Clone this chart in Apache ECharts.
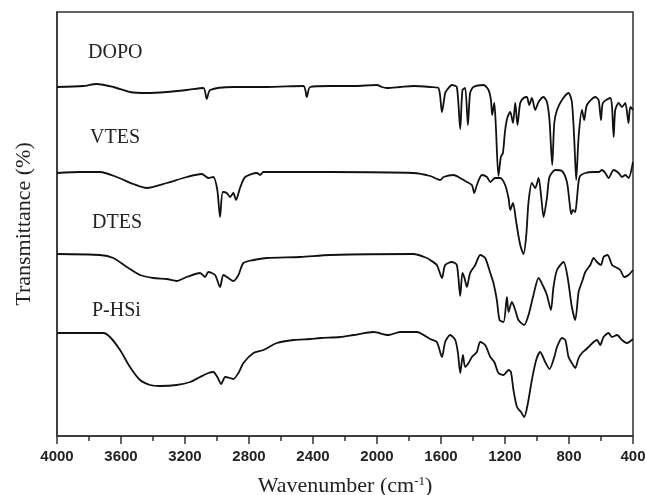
<!DOCTYPE html>
<html>
<head>
<meta charset="utf-8">
<script src="https://cdn.jsdelivr.net/npm/echarts@6/dist/echarts.min.js"></script>
<style>
  html, body { margin: 0; padding: 0; background: #fff; }
  #chart { width: 646px; height: 495px; }
</style>
</head>
<body>
<div id="chart"></div>
<script>
// FTIR spectra (wavenumber in cm-1, transmittance in arbitrary units)
var dopoWn = [4000, 3836, 3752, 3648, 3544, 3439, 3314, 3189, 3085, 3064, 3043, 2898, 2689, 2460, 2439, 2418, 2293, 2147, 2001, 1970, 1938, 1855, 1772, 1668, 1616, 1594, 1574, 1563, 1532, 1501, 1480, 1466, 1449, 1432, 1418, 1397, 1334, 1303, 1288, 1280, 1267, 1257, 1241, 1226, 1213, 1199, 1184, 1167, 1150, 1136, 1122, 1105, 1084, 1063, 1049, 1032, 1011, 990, 959, 938, 922, 905, 892, 875, 844, 803, 782, 767, 755, 740, 719, 705, 688, 636, 615, 600, 588, 542, 531, 521, 511, 490, 469, 448, 428, 417, 400];
var dopoT = [349, 350, 352, 349, 344, 343, 344, 346, 348, 337, 346, 349, 349, 350, 339, 349, 350, 350, 351, 349, 348, 349, 350, 349, 348, 324, 343, 346, 351, 349, 307, 346, 348, 311, 343, 349, 351, 346, 336, 321, 333, 309, 260, 279, 283, 306, 319, 324, 313, 333, 311, 333, 338, 339, 331, 338, 326, 334, 339, 334, 316, 271, 313, 326, 336, 343, 334, 296, 256, 299, 326, 316, 331, 339, 336, 316, 333, 338, 329, 299, 326, 333, 329, 333, 313, 329, 326];

var vtesWn = [4000, 3856, 3731, 3627, 3523, 3439, 3314, 3189, 3095, 3054, 3023, 2998, 2981, 2964, 2939, 2918, 2898, 2881, 2856, 2824, 2751, 2731, 2710, 2293, 1772, 1668, 1605, 1584, 1522, 1469, 1438, 1407, 1392, 1376, 1344, 1313, 1292, 1261, 1230, 1199, 1178, 1167, 1150, 1130, 1105, 1084, 1067, 1053, 1032, 1011, 990, 973, 959, 938, 922, 886, 844, 813, 797, 786, 775, 761, 750, 734, 698, 646, 615, 594, 573, 553, 521, 490, 469, 448, 428, 400];
var vtesT = [263, 264, 264, 259, 252, 248, 253, 259, 262, 258, 259, 246, 219, 244, 243, 239, 243, 236, 248, 259, 263, 261, 264, 264, 263, 260, 256, 259, 261, 257, 254, 251, 243, 251, 261, 259, 254, 258, 258, 251, 238, 226, 233, 214, 191, 182, 201, 234, 253, 248, 258, 238, 219, 238, 259, 266, 265, 254, 234, 222, 226, 224, 238, 259, 263, 264, 264, 266, 263, 258, 266, 263, 259, 261, 258, 274];

var dtesWn = [4000, 3731, 3648, 3564, 3481, 3398, 3314, 3252, 3189, 3106, 3075, 3054, 3012, 2981, 2960, 2929, 2898, 2866, 2835, 2772, 2689, 2480, 2293, 1772, 1688, 1668, 1626, 1594, 1574, 1532, 1501, 1480, 1466, 1453, 1438, 1418, 1386, 1355, 1324, 1292, 1272, 1251, 1234, 1209, 1188, 1178, 1157, 1136, 1116, 1080, 1053, 1022, 990, 959, 938, 913, 897, 875, 834, 809, 782, 761, 740, 719, 698, 667, 646, 625, 600, 584, 559, 531, 511, 480, 454, 428, 400];
var dtesT = [182, 181, 178, 169, 161, 158, 157, 155, 159, 163, 159, 164, 161, 149, 161, 158, 155, 161, 173, 176, 178, 179, 181, 182, 178, 176, 171, 158, 171, 174, 171, 140, 163, 158, 149, 163, 171, 181, 178, 163, 153, 136, 116, 114, 139, 124, 134, 126, 116, 111, 121, 141, 158, 149, 141, 126, 149, 166, 174, 159, 129, 116, 144, 154, 164, 171, 178, 174, 171, 179, 181, 171, 169, 166, 159, 161, 166];

var phsiWn = [4000, 3710, 3669, 3606, 3544, 3481, 3418, 3356, 3252, 3168, 3106, 3054, 3023, 2998, 2974, 2949, 2918, 2898, 2866, 2835, 2772, 2710, 2626, 2522, 2418, 2355, 2230, 2147, 2022, 1928, 1855, 1751, 1668, 1626, 1594, 1574, 1543, 1511, 1494, 1480, 1463, 1449, 1428, 1407, 1376, 1355, 1324, 1292, 1267, 1241, 1209, 1178, 1163, 1147, 1125, 1100, 1080, 1059, 1032, 1005, 980, 949, 922, 892, 875, 844, 823, 803, 782, 761, 740, 719, 698, 678, 646, 625, 605, 584, 553, 531, 500, 469, 438, 400];
var phsiT = [103, 103, 99, 86, 69, 56, 51, 50, 51, 54, 59, 63, 64, 59, 52, 59, 58, 57, 63, 73, 83, 86, 93, 96, 97, 98, 99, 101, 104, 101, 104, 104, 97, 94, 79, 94, 101, 96, 83, 63, 81, 69, 73, 79, 84, 94, 91, 79, 74, 63, 61, 66, 64, 46, 29, 24, 19, 31, 56, 76, 84, 74, 67, 79, 89, 98, 96, 79, 73, 68, 78, 83, 86, 89, 94, 96, 91, 99, 103, 99, 101, 96, 93, 97];

var xTicks = [400, 4000, 400]; // min, max, step of the labelled ticks
var sampleNames = ['DOPO', 'VTES', 'DTES', 'P-HSi'];

function pairs(wn, t) {
	return wn.map(function (w, i) { return [w, t[i]]; });
}

var chart = echarts.init(document.getElementById('chart'));

var lineStyle = { color: '#111', width: 1.8 };
var seriesList = [
	pairs(dopoWn, dopoT),
	pairs(vtesWn, vtesT),
	pairs(dtesWn, dtesT),
	pairs(phsiWn, phsiT)
].map(function (d, i) {
	return {
		name: sampleNames[i],
		type: 'line',
		data: d,
		showSymbol: false,
		silent: true,
		smooth: 0.25,
		lineStyle: lineStyle
	};
});

// sample labels sit just above each curve, near the left
var labelPos = [[88, 53], [90, 138], [92, 223], [92, 311]];

chart.setOption({
	animation: false,
	grid: {
		left: 57,
		right: 13,
		top: 12,
		bottom: 59,
		outerBoundsMode: 'none',
		show: true,
		borderColor: '#333',
		borderWidth: 1.5
	},
	xAxis: {
		type: 'value',
		inverse: true,
		min: xTicks[0],
		max: xTicks[1],
		interval: xTicks[2],
		name: 'Wavenumber (cm{sup|-1})',
		nameLocation: 'middle',
		nameGap: 39,
		nameTextStyle: {
			fontFamily: 'Liberation Serif',
			fontSize: 22,
			color: '#222',
			rich: {
				sup: { fontFamily: 'Liberation Serif', fontSize: 13, color: '#222', verticalAlign: 'top', padding: [0, 0, 10, 0] }
			}
		},
		axisLine: { show: true, lineStyle: { color: '#333', width: 1.5 } },
		axisTick: { show: true, inside: false, length: 8, lineStyle: { color: '#333', width: 1.5 } },
		minorTick: { show: true, splitNumber: 2, length: 5, lineStyle: { color: '#333', width: 1.5 } },
		axisLabel: {
			margin: 13,
			fontFamily: 'Liberation Sans',
			fontWeight: 'bold',
			fontSize: 15,
			color: '#222',
			formatter: function (v) { return String(v); }
		},
		splitLine: { show: false }
	},
	yAxis: {
		type: 'value',
		min: 0,
		max: 424,
		name: 'Transmittance (%)',
		nameLocation: 'middle',
		nameGap: 22,
		nameTextStyle: { fontFamily: 'Liberation Serif', fontSize: 22, color: '#222' },
		axisLine: { show: true, lineStyle: { color: '#333', width: 1.5 } },
		axisTick: { show: false },
		axisLabel: { show: false },
		splitLine: { show: false }
	},
	graphic: sampleNames.map(function (n, i) {
		return {
			type: 'text',
			x: labelPos[i][0],
			y: labelPos[i][1],
			style: {
				text: n,
				fontFamily: 'Liberation Serif',
				fontSize: 20,
				fill: '#222',
				verticalAlign: 'middle'
			}
		};
	}),
	series: seriesList
});
</script>
</body>
</html>
